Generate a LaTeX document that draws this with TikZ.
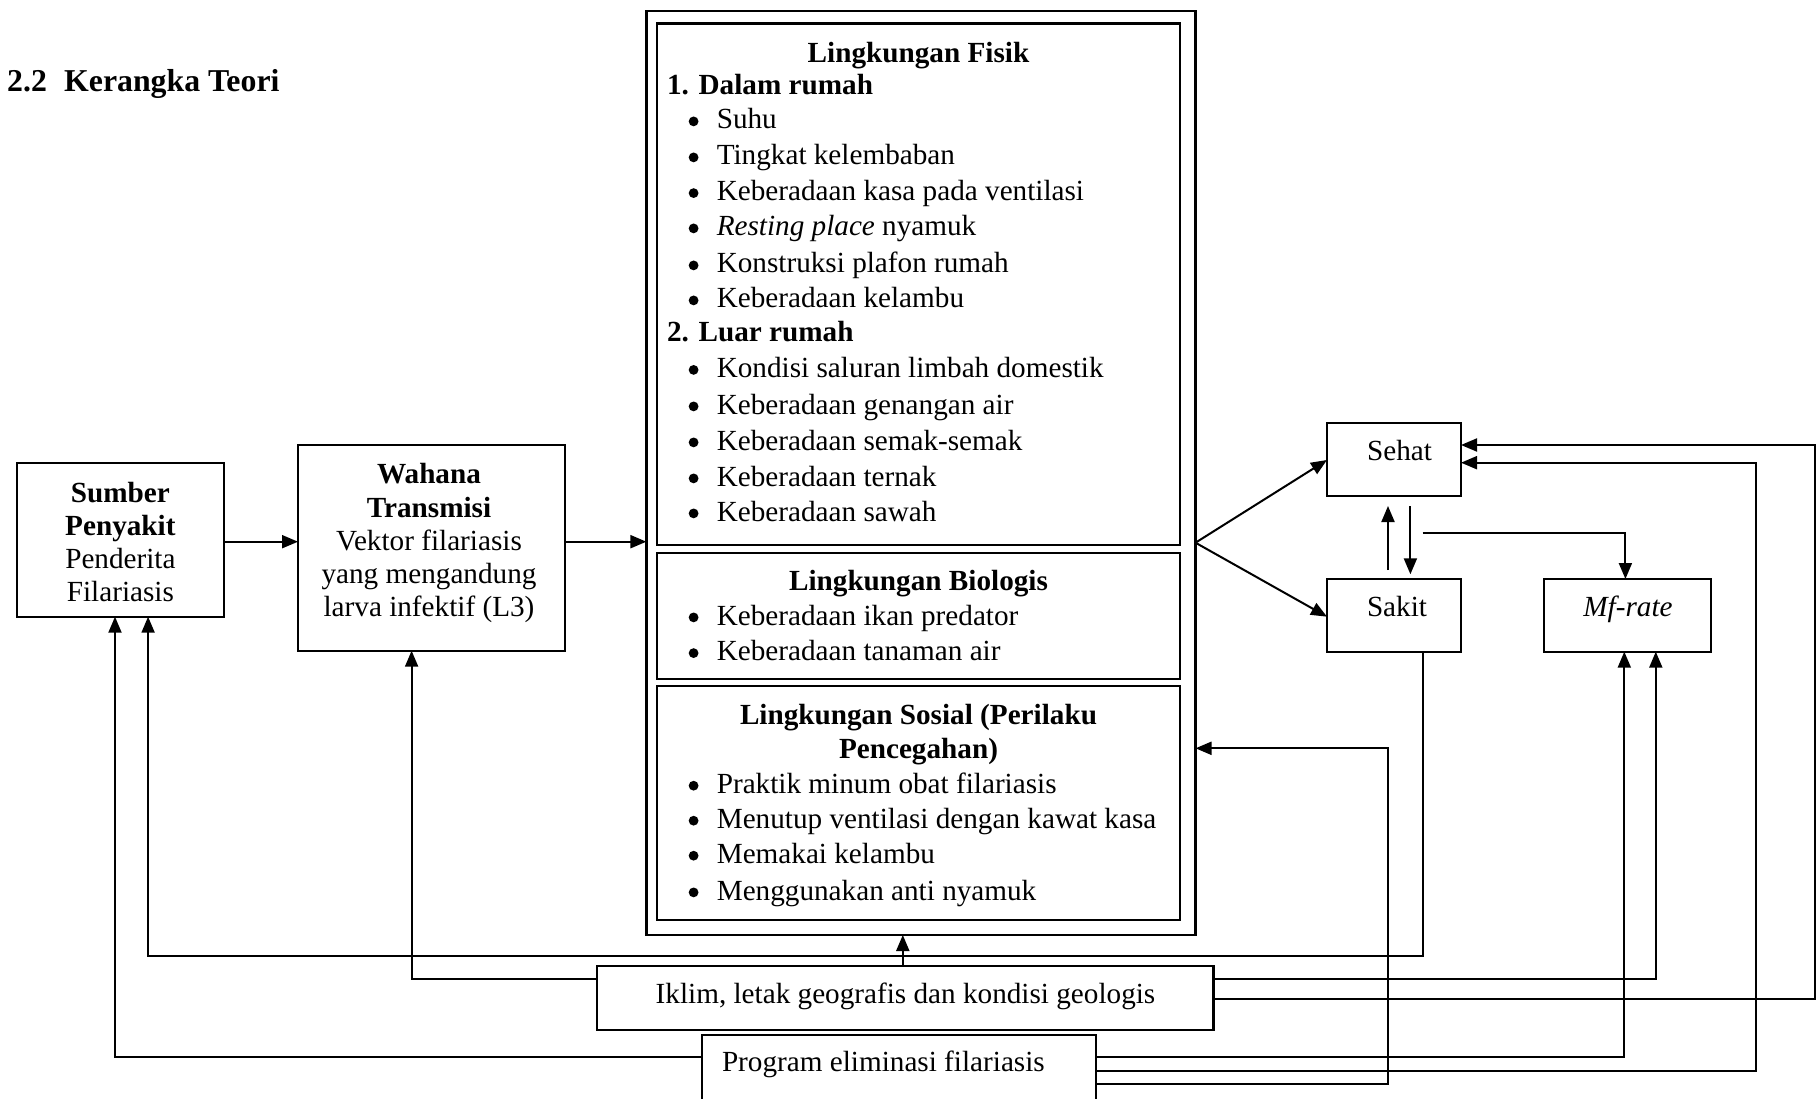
\documentclass[tikz,border=0pt]{standalone}
\usepackage{fontspec}
\setmainfont{Liberation Serif}
\usetikzlibrary{arrows.meta}
\newcommand{\bodyfont}{\fontsize{29.2pt}{35pt}\selectfont}
\newcommand{\ttlfont}{\fontsize{31.8pt}{38pt}\selectfont\bfseries}
\tikzset{
  box/.style={draw, line width=2.2pt, rectangle, inner sep=0pt, outer sep=0pt},
  ln/.style={line width=2pt, line join=miter},
  arr/.style={ln, -{Triangle[length=16pt,width=13pt]}},
  txt/.style={inner sep=0pt, outer sep=0pt, font=\bodyfont, anchor=base},
  ltxt/.style={txt, anchor=base west},
  btxt/.style={txt, font=\bodyfont\bfseries},
  dot/.style={fill=black},
}
\begin{document}
\begin{tikzpicture}[x=1pt,y=-1pt]
\useasboundingbox (0,0) rectangle (1816,1099);
\fill[white] (0,0) rectangle (1816,1099);
\clip (0,0) rectangle (1816,1099);

% title
\node[inner sep=0pt, font=\ttlfont, anchor=base west] (title) at (7,91.7) {\makebox[57pt][l]{2.2}Kerangka Teori};

% boxes
\node[box, minimum width=207.2pt, minimum height=154pt] (sumber) at (120.4,539.7) {};
\node[box, minimum width=267pt, minimum height=205.7pt] (wahana) at (431.5,547.85) {};
\node[box, minimum width=549.1pt, minimum height=924.3pt] (outer) at (920.95,472.85) {};
\node[box, minimum width=523pt, minimum height=521.4pt] (fisik) at (918.5,284.3) {};
\node[box, minimum width=523pt, minimum height=126.6pt] (bio) at (918.5,616) {};
\node[box, minimum width=523pt, minimum height=234pt] (sosial) at (918.5,803) {};
\node[box, minimum width=134pt, minimum height=73pt] (sehat) at (1394,459.2) {};
\node[box, minimum width=134pt, minimum height=72.7pt] (sakit) at (1394,615.35) {};
\node[box, minimum width=166.6pt, minimum height=72.7pt] (mfrate) at (1627.3,615.35) {};
\node[box, minimum width=616.5pt, minimum height=64pt] (iklim) at (905.25,998) {};
\node[box, minimum width=394pt, minimum height=85pt] (program) at (899,1077.5) {};

% texts: Sumber
\node[btxt] (s1) at (120.4,502.7) {Sumber};
\node[btxt] (s2) at (120.4,535.5) {Penyakit};
\node[txt] (s3) at (120.4,568.5) {Penderita};
\node[txt] (s4) at (120.4,601.7) {Filariasis};
% Wahana
\node[btxt] (w1) at (429,483.3) {Wahana};
\node[btxt] (w2) at (429,517.3) {Transmisi};
\node[txt] (w3) at (429,550) {Vektor filariasis};
\node[txt] (w4) at (429,583.3) {yang mengandung};
\node[txt] (w5) at (429,616.7) {larva infektif (L3)};

% Fisik
\node[btxt] (f0) at (918.5,62.5) {Lingkungan Fisik};
\node[btxt, anchor=base west] (fd) at (667,94.6) {1. Dalam rumah};
\foreach \yy/\tx [count=\i] in {129/Suhu, 165/Tingkat kelembaban, 200.7/Keberadaan kasa pada ventilasi, 236/{\textit{Resting place} nyamuk}, 273/Konstruksi plafon rumah, 308/Keberadaan kelambu}{
  \node[ltxt] (fa\i) at (716.8,\yy) {\tx};
  \fill[dot] (693.6,\yy-7.6) circle (4.9);
}
\node[btxt, anchor=base west] (fl) at (667,342) {2. Luar rumah};
\foreach \yy/\tx [count=\i] in {377.5/Kondisi saluran limbah domestik, 414/Keberadaan genangan air, 450/Keberadaan semak-semak, 486/Keberadaan ternak, 521/Keberadaan sawah}{
  \node[ltxt] (fb\i) at (716.8,\yy) {\tx};
  \fill[dot] (693.6,\yy-7.6) circle (4.9);
}

% Biologis
\node[btxt] (b0) at (918.5,590) {Lingkungan Biologis};
\foreach \yy/\tx [count=\i] in {625/Keberadaan ikan predator, 660.7/Keberadaan tanaman air}{
  \node[ltxt] (bb\i) at (716.8,\yy) {\tx};
  \fill[dot] (693.6,\yy-7.6) circle (4.9);
}

% Sosial
\node[btxt] (so0) at (918.5,724) {Lingkungan Sosial (Perilaku};
\node[btxt] (so00) at (918.5,758.3) {Pencegahan)};
\foreach \yy/\tx [count=\i] in {793.3/Praktik minum obat filariasis, 828.3/Menutup ventilasi dengan kawat kasa, 863.3/Memakai kelambu, 900/Menggunakan anti nyamuk}{
  \node[ltxt] (sc\i) at (716.8,\yy) {\tx};
  \fill[dot] (693.6,\yy-7.6) circle (4.9);
}

% right boxes text
\node[txt] (tse) at (1399.5,460.7) {Sehat};
\node[txt] (tsa) at (1397,616.7) {Sakit};
\node[txt] (tmf) at (1628,616.7) {\textit{Mf-rate}};
% bottom boxes text
\node[txt] (tik) at (905.5,1003.3) {Iklim, letak geografis dan kondisi geologis};
\node[ltxt] (tpr) at (722,1071.7) {Program eliminasi filariasis};

% helper coordinates
\coordinate (hA) at (0,541.7);
\coordinate (hF) at (0,542.7);
\coordinate (hSe) at (0,460);
\coordinate (hSa) at (0,616.7);
\coordinate (vUp) at (1388,0);
\coordinate (vDn) at (1410.4,0);
\coordinate (mfs) at (1422.6,532.7);
\coordinate (vMf) at (1625.4,0);
\coordinate (h445) at (0,445);
\coordinate (h462) at (0,462.7);
\coordinate (h748) at (0,748.3);
\coordinate (h956) at (0,956.4);
\coordinate (h979) at (0,979);
\coordinate (h999) at (0,999.3);
\coordinate (h1056) at (0,1056.7);
\coordinate (h1070) at (0,1070.7);
\coordinate (h1084) at (0,1084);
\coordinate (vR) at (1814.5,0);
\coordinate (v1756) at (1756.2,0);
\coordinate (v1656) at (1655.8,0);
\coordinate (v1624) at (1624.3,0);
\coordinate (v1387) at (1387.6,0);
\coordinate (v1423) at (1423.3,0);
\coordinate (v903) at (902.8,0);
\coordinate (v411) at (411.6,0);
\coordinate (v148) at (148.1,0);
\coordinate (v115) at (115,0);
\coordinate (fork) at (outer.east |- hF);

% connectors
\draw[arr] (sumber.east |- hA) -- (wahana.west |- hA);
\draw[arr] (wahana.east |- hA) -- (outer.west |- hA);
\draw[arr] (fork) -- (sehat.west |- hSe);
\draw[arr] (fork) -- (sakit.west |- hSa);
\draw[arr, shorten <=9pt, shorten >=10.3pt] (sakit.north -| vUp) -- (sehat.south -| vUp);
\draw[arr, shorten <=10.3pt, shorten >=4.7pt] (sehat.south -| vDn) -- (sakit.north -| vDn);
\draw[arr] (mfs) -| (mfrate.north -| vMf);
\draw[arr] (iklim.east |- h999) -- (vR |- h999) -- (vR |- h445) -- (sehat.east |- h445);
\draw[arr] (program.east |- h1070) -- (v1756 |- h1070) -- (v1756 |- h462) -- (sehat.east |- h462);
\draw[arr] (iklim.east |- h979) -| (mfrate.south -| v1656);
\draw[arr] (program.east |- h1056) -| (mfrate.south -| v1624);
\draw[arr] (program.east |- h1084) -| (v1387 |- h748) -- (outer.east |- h748);
\draw[arr] (sakit.south -| v1423) -- (v1423 |- h956) -- (v148 |- h956) -- (sumber.south -| v148);
\draw[arr] (iklim.north -| v903) -- (outer.south -| v903);
\draw[arr] (iklim.west |- h979) -| (wahana.south -| v411);
\draw[arr] (program.west |- h1056) -| (sumber.south -| v115);
\end{tikzpicture}
\end{document}
